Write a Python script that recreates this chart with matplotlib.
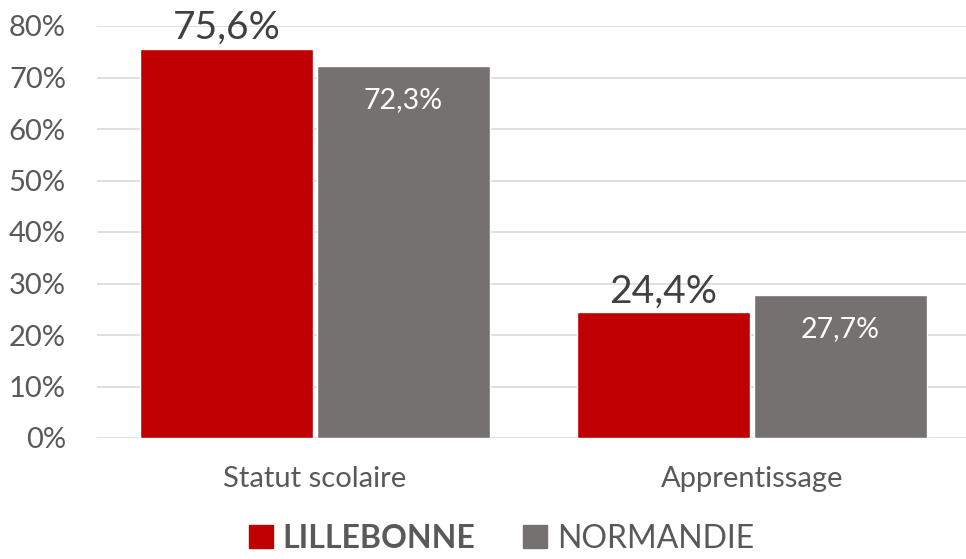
import matplotlib.pyplot as plt
from matplotlib.patches import Patch

categories = ['Statut scolaire', 'Apprentissage']
lillebonne = [75.6, 24.4]
normandie = [72.3, 27.7]
yticks = [0, 10, 20, 30, 40, 50, 60, 70, 80]

RED = '#C00000'
GREY = '#767171'
TXT = '#595959'

plt.rcParams['font.family'] = ['Lato', 'DejaVu Sans']

fig = plt.figure(figsize=(9.66, 5.59), dpi=100)
ax = fig.add_axes([96.5 / 966, 121 / 559, 874 / 966, 412 / 559])

w = 0.396
off = 0.2025
xs = list(range(len(categories)))
b1 = ax.bar([x - off for x in xs], lillebonne, w, color=RED,
            edgecolor='white', linewidth=1, zorder=3)
b2 = ax.bar([x + off for x in xs], normandie, w, color=GREY,
            edgecolor='white', linewidth=1, zorder=3)

# valeurs : au-dessus des barres rouges, dans les barres grises
for rect, v in zip(b1, lillebonne):
    ax.text(rect.get_x() + rect.get_width() / 2, v + 0.6,
            f'{v:.1f}%'.replace('.', ','), ha='center', va='bottom',
            fontsize=28, color='#404040', zorder=4)
for rect, v in zip(b2, normandie):
    ax.text(rect.get_x() + rect.get_width() / 2, v - 6.6,
            f'{v:.1f}%'.replace('.', ','), ha='center', va='center',
            fontsize=20.5, color='white', zorder=4)

ax.set_xlim(-0.5, 1.5)
ax.set_ylim(0, 80)
ax.set_yticks(yticks)
ax.set_yticklabels([f'{t}%' for t in yticks], fontsize=21, color=TXT)
ax.set_xticks(xs)
ax.set_xticklabels(categories, fontsize=21, color=TXT)
ax.tick_params(axis='both', length=0)
ax.tick_params(axis='y', pad=22)
ax.tick_params(axis='x', pad=20)

ax.grid(axis='y', color='#D9D9D9', linewidth=1.2, zorder=0)
for s in ax.spines.values():
    s.set_visible(False)

handles = [Patch(color=RED), Patch(color=GREY)]
leg = fig.legend(handles, ['LILLEBONNE', 'NORMANDIE'], loc='lower center',
                 bbox_to_anchor=(0.519, -0.042), ncol=2, frameon=False,
                 fontsize=23, handlelength=0.75, handleheight=0.75,
                 handletextpad=0.3, columnspacing=1.5)
for t in leg.get_texts():
    t.set_color(TXT)
leg.get_texts()[0].set_fontweight('bold')

fig.savefig('out.png', dpi=100)
